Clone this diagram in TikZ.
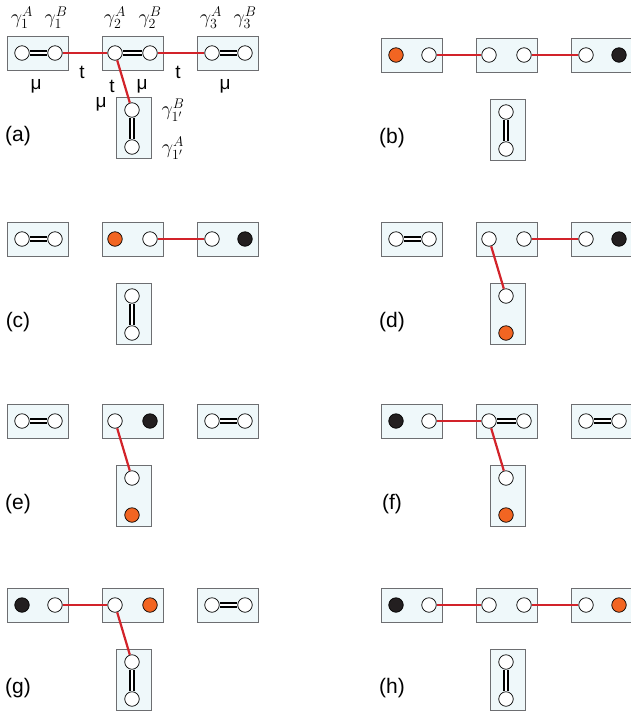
\RequirePackage{fix-cm}
\documentclass[tikz,border=0pt]{standalone}
\usepackage{amsmath}
\usepackage{fontspec}
\setsansfont{Liberation Sans}
\usepackage{tikz}
\usetikzlibrary{positioning}

\definecolor{boxfill}{HTML}{EFF8FA}
\definecolor{boxline}{HTML}{6D6E71}
\definecolor{hopred}{HTML}{D2232A}
\definecolor{ora}{HTML}{F26522}
\definecolor{blk}{HTML}{231F20}

\tikzset{
  wire/.style={draw=boxline, fill=boxfill, line width=0.8pt, rectangle,
    minimum width=61pt, minimum height=34pt, inner sep=0pt},
  mode/.style={draw, circle, fill=white, minimum size=14.5pt, inner sep=0pt, line width=0.7pt},
  full/.style={mode, fill=blk},
  hole/.style={mode, fill=ora},
  mu/.style={double, line width=1.3pt, double distance=2.6pt},
  hop/.style={hopred, line width=2.2pt},
  lab/.style={inner sep=0pt},
  gam/.style={inner sep=0pt}
}
\newcommand{\gm}[1]{\fontsize{20}{22}\selectfont$#1$}
\newcommand{\cpl}[1]{\sffamily\fontsize{19}{21}\selectfont #1}
\newcommand{\pnl}[1]{\sffamily\fontsize{21}{23}\selectfont #1}

% three horizontal wires and one vertical wire, with their modes
\newcommand{\tjunc}[9]{%
  \node[wire] (#1-w1) at (37.5,53) {};
  \node[wire] (#1-w2) at (132.5,53) {};
  \node[wire] (#1-w3) at (227.5,53) {};
  \node[wire, minimum width=35pt, minimum height=61pt] (#1-w4) at (133.5,127.5) {};
  \node[#2] (#1-1A) at (22,53) {};
  \node[#3] (#1-1B) at (55,53) {};
  \node[#4] (#1-2A) at (115,53) {};
  \node[#5] (#1-2B) at (150,53) {};
  \node[#6] (#1-3A) at (212,53) {};
  \node[#7] (#1-3B) at (245,53) {};
  \node[#8] (#1-4B) at (132,110) {};
  \node[#9] (#1-4A) at (132,147) {};
}

\begin{document}
\begin{tikzpicture}[x=1pt, y=-1pt]
  \useasboundingbox (0,0) rectangle (631,713);

  % (a)
  \begin{scope}
    \tjunc{a}{mode}{mode}{mode}{mode}{mode}{mode}{mode}{mode}
    \draw[mu] (a-1A) -- (a-1B);
    \draw[mu] (a-2A) -- (a-2B);
    \draw[mu] (a-3A) -- (a-3B);
    \draw[mu] (a-4B) -- (a-4A);
    \draw[hop] (a-1B) -- (a-2A);
    \draw[hop] (a-2B) -- (a-3A);
    \draw[hop] (a-2A) -- (a-4B);
    \node[gam] (a-g1A) at (22,18) {\gm{\gamma_1^A}};
    \node[gam] (a-g1B) at (56,18) {\gm{\gamma_1^B}};
    \node[gam] (a-g2A) at (115,18) {\gm{\gamma_2^A}};
    \node[gam] (a-g2B) at (150,18) {\gm{\gamma_2^B}};
    \node[gam] (a-g3A) at (211,18) {\gm{\gamma_3^A}};
    \node[gam] (a-g3B) at (245,18) {\gm{\gamma_3^B}};
    \node[gam] (a-g4B) at (173,110) {\gm{\gamma_{1'}^B}};
    \node[gam] (a-g4A) at (173,148) {\gm{\gamma_{1'}^A}};
    \node[lab] (a-t1) at (82,72) {\cpl{t}};
    \node[lab] (a-t2) at (112,86) {\cpl{t}};
    \node[lab] (a-t3) at (178,72) {\cpl{t}};
    \node[lab] (a-m1) at (36,86) {\cpl{μ}};
    \node[lab] (a-m2) at (142,86) {\cpl{μ}};
    \node[lab] (a-m3) at (225,86) {\cpl{μ}};
    \node[lab] (a-m4) at (101,104) {\cpl{μ}};
    \node[lab] (a-lab) at (18,136) {\pnl{(a)}};
  \end{scope}

  % (b)
  \begin{scope}[shift={(374,2)}]
    \tjunc{b}{hole}{mode}{mode}{mode}{mode}{full}{mode}{mode}
    \draw[mu] (b-4B) -- (b-4A);
    \draw[hop] (b-1B) -- (b-2A);
    \draw[hop] (b-2B) -- (b-3A);
    \node[lab] (b-lab) at (18,136) {\pnl{(b)}};
  \end{scope}

  % (c)
  \begin{scope}[shift={(0,186)}]
    \tjunc{c}{mode}{mode}{hole}{mode}{mode}{full}{mode}{mode}
    \draw[mu] (c-1A) -- (c-1B);
    \draw[mu] (c-4B) -- (c-4A);
    \draw[hop] (c-2B) -- (c-3A);
    \node[lab] (c-lab) at (18,136) {\pnl{(c)}};
  \end{scope}

  % (d)
  \begin{scope}[shift={(374,186)}]
    \tjunc{d}{mode}{mode}{mode}{mode}{mode}{full}{mode}{hole}
    \draw[mu] (d-1A) -- (d-1B);
    \draw[hop] (d-2B) -- (d-3A);
    \draw[hop] (d-2A) -- (d-4B);
    \node[lab] (d-lab) at (18,136) {\pnl{(d)}};
  \end{scope}

  % (e)
  \begin{scope}[shift={(0,368)}]
    \tjunc{e}{mode}{mode}{mode}{full}{mode}{mode}{mode}{hole}
    \draw[mu] (e-1A) -- (e-1B);
    \draw[mu] (e-3A) -- (e-3B);
    \draw[hop] (e-2A) -- (e-4B);
    \node[lab] (e-lab) at (18,136) {\pnl{(e)}};
  \end{scope}

  % (f)
  \begin{scope}[shift={(374,368)}]
    \tjunc{f}{full}{mode}{mode}{mode}{mode}{mode}{mode}{hole}
    \draw[mu] (f-2A) -- (f-2B);
    \draw[mu] (f-3A) -- (f-3B);
    \draw[hop] (f-1B) -- (f-2A);
    \draw[hop] (f-2A) -- (f-4B);
    \node[lab] (f-lab) at (18,136) {\pnl{(f)}};
  \end{scope}

  % (g)
  \begin{scope}[shift={(0,552)}]
    \tjunc{g}{full}{mode}{mode}{hole}{mode}{mode}{mode}{mode}
    \draw[mu] (g-3A) -- (g-3B);
    \draw[mu] (g-4B) -- (g-4A);
    \draw[hop] (g-1B) -- (g-2A);
    \draw[hop] (g-2A) -- (g-4B);
    \node[lab] (g-lab) at (18,136) {\pnl{(g)}};
  \end{scope}

  % (h)
  \begin{scope}[shift={(374,552)}]
    \tjunc{h}{full}{mode}{mode}{mode}{mode}{hole}{mode}{mode}
    \draw[mu] (h-4B) -- (h-4A);
    \draw[hop] (h-1B) -- (h-2A);
    \draw[hop] (h-2B) -- (h-3A);
    \node[lab] (h-lab) at (18,136) {\pnl{(h)}};
  \end{scope}
\end{tikzpicture}
\end{document}
